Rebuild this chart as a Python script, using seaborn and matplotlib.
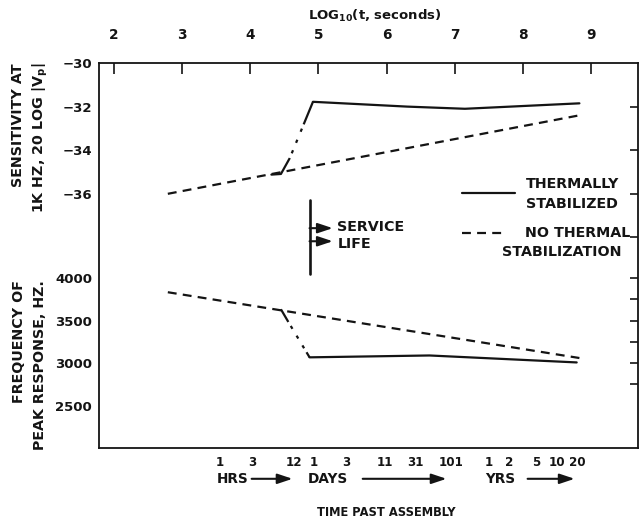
import numpy as np
import matplotlib
matplotlib.use("Agg")
import matplotlib.pyplot as plt
import matplotlib.transforms as mtransforms
import seaborn as sns

# ---- data -------------------------------------------------------------
# top scale: log10 of elapsed time in seconds
log_t_ticks = [2, 3, 4, 5, 6, 7, 8, 9]

# bottom scale: time past assembly
hour_marks = [1, 3, 12]
day_marks = [1, 3, 11, 31, 101]
year_marks = [1, 2, 5, 10, 20]

# sensitivity at 1 kHz, 20 log |Vp|
sens_plain_logt = [2.79, 8.83]
sens_plain = [-36.0, -32.4]
sens_lead_logt = [4.31, 4.45]
sens_lead = [-35.12, -35.09]
sens_step_logt = [4.45, 4.58, 4.92]
sens_step = [-35.09, -34.36, -31.78]
sens_stab_logt = [4.92, 6.30, 7.15, 8.83]
sens_stab = [-31.78, -32.0, -32.1, -31.85]

# frequency of peak response, Hz
freq_plain_logt = [2.79, 8.83]
freq_plain = [3835, 3060]
freq_step_logt = [4.45, 4.56, 4.87]
freq_step = [3634, 3483, 3068]
freq_stab_logt = [4.87, 6.63, 8.79]
freq_stab = [3068, 3090, 3008]

service_life_start = 4.87

sens_ticks_left = [-36, -34, -32, -30]
sens_ticks_right = [-38, -36, -34, -32]
freq_ticks = [2500, 3000, 3500, 4000]
freq_minor = [2750, 3250, 3750]
freq_ticks_right = [2750, 3000, 3250, 3500, 3750, 4000]

# ---- style ------------------------------------------------------------
INK = "#141414"
sns.set_theme(style="white")
plt.rcParams.update({
    "font.family": ["DejaVu Sans"],
    "font.weight": "bold",
    "font.size": 10.3,
    "mathtext.default": "bf",
    "text.color": INK,
    "axes.labelcolor": INK,
    "axes.edgecolor": INK,
    "xtick.color": INK,
    "ytick.color": INK,
    "lines.scale_dashes": True,
})

LW = 1.6
DASHED = (0, (4.0, 2.8))
STEP_UP = (0, (8.2, 2.3, 1.5, 3.6, 1.5, 3.9, 1.5, 2.1, 60, 1))
STEP_DOWN = (0, (6.6, 2.1, 1.5, 3.6, 1.5, 3.6, 1.5, 2.1, 60, 1))

W, H = 642, 528
fig = plt.figure(figsize=(W / 100, H / 100), dpi=100)


def box(x0, y0, x1, y1):
    """Pixel box (origin top-left) to figure-fraction rectangle."""
    return [x0 / W, 1 - y1 / H, (x1 - x0) / W, (y1 - y0) / H]


XLIM = (1.78, 9.69)

# ---- frame with both time scales --------------------------------------
frame = fig.add_axes(box(99, 63, 638, 448))
frame.set_xlim(XLIM)
frame.set_ylim(0, 1)
frame.set_yticks([])
for s in frame.spines.values():
    s.set_visible(True)
    s.set_linewidth(1.3)
    s.set_color(INK)

time_pos = list(np.log10(np.array(hour_marks) * 3600.0)) + \
    list(np.log10(np.array(day_marks) * 86400.0)) + \
    list(np.log10(np.array(year_marks) * 3.156e7))
time_lab = [str(v) for v in hour_marks + day_marks + year_marks]
frame.set_xticks(time_pos, labels=time_lab)
frame.tick_params(axis="x", direction="out", length=5, width=1.2, pad=0.8,
                  labelsize=8.6)

top = frame.secondary_xaxis("top")
top.set_xticks(log_t_ticks, labels=[str(v) for v in log_t_ticks])
top.tick_params(direction="in", length=8, width=1.2, pad=15, labelsize=9.8)
top.spines["top"].set_visible(False)

fig.text(375 / W, 1 - 16 / H, r"LOG$_{10}$(t, seconds)", ha="center",
         va="center", fontsize=9.5)

# ---- sensitivity panel ------------------------------------------------
ax_s = fig.add_axes(box(99, 63, 638, 237.4))
ax_s.set_xlim(XLIM)
ax_s.set_ylim(-38, -30)
ax_s.patch.set_visible(False)
for s in ax_s.spines.values():
    s.set_visible(False)
ax_s.set_xticks([])
ax_s.set_yticks(sens_ticks_left,
                labels=["\u2212" + str(abs(v)) for v in sens_ticks_left])
ax_s.tick_params(axis="y", direction="in", length=6.5, width=1.2, pad=5,
                 labelsize=9.5)
sr = ax_s.secondary_yaxis("right")
sr.set_yticks(sens_ticks_right)
sr.tick_params(direction="in", length=6, width=1.2, labelright=False)
sr.spines["right"].set_visible(False)

kw = dict(color=INK, linewidth=LW, sort=False, estimator=None, legend=False)
sns.lineplot(x=sens_plain_logt, y=sens_plain, ax=ax_s, linestyle=DASHED, **kw)
sns.lineplot(x=sens_lead_logt, y=sens_lead, ax=ax_s, **kw)
sns.lineplot(x=sens_step_logt, y=sens_step, ax=ax_s, linestyle=STEP_UP, **kw)
sns.lineplot(x=sens_stab_logt, y=sens_stab, ax=ax_s, **kw)

# ---- frequency panel --------------------------------------------------
ax_f = fig.add_axes(box(99, 257, 638, 448))
ax_f.set_xlim(XLIM)
ax_f.set_ylim(2000, 4250)
ax_f.patch.set_visible(False)
for s in ax_f.spines.values():
    s.set_visible(False)
ax_f.set_xticks([])
ax_f.set_yticks(freq_ticks, labels=[str(v) for v in freq_ticks])
ax_f.set_yticks(freq_minor, minor=True)
ax_f.tick_params(axis="y", which="major", direction="in", length=6.5,
                 width=1.2, pad=5, labelsize=9.5)
ax_f.tick_params(axis="y", which="minor", direction="in", length=4.5,
                 width=1.0)
fr = ax_f.secondary_yaxis("right")
fr.set_yticks(freq_ticks_right)
fr.tick_params(direction="in", length=6, width=1.2, labelright=False)
fr.spines["right"].set_visible(False)

sns.lineplot(x=freq_plain_logt, y=freq_plain, ax=ax_f, linestyle=DASHED, **kw)
sns.lineplot(x=freq_step_logt, y=freq_step, ax=ax_f, linestyle=STEP_DOWN, **kw)
sns.lineplot(x=freq_stab_logt, y=freq_stab, ax=ax_f, **kw)

# ---- annotations ------------------------------------------------------
trans = mtransforms.blended_transform_factory(frame.transData, frame.transAxes)

# service life marker
frame.plot([service_life_start, service_life_start], [0.452, 0.644],
           transform=trans, color=INK, lw=1.9, clip_on=False)
arrow_kw = dict(arrowstyle="-|>,head_length=0.9,head_width=0.3", lw=1.5,
                color=INK, shrinkA=0, shrinkB=0, mutation_scale=10)
for yy in (0.571, 0.537):
    frame.annotate("", xy=(5.21, yy), xytext=(service_life_start, yy),
                   xycoords=trans, textcoords=trans, arrowprops=arrow_kw)
frame.text(5.28, 0.573, "SERVICE", transform=trans, ha="left", va="center")
frame.text(5.28, 0.530, "LIFE", transform=trans, ha="left", va="center")

# key
frame.plot([7.10, 7.88], [0.662, 0.662], transform=trans, color=INK, lw=LW)
frame.plot([7.10, 7.76], [0.558, 0.558], transform=trans, color=INK, lw=LW,
           linestyle=DASHED)
frame.text(8.04, 0.685, "THERMALLY", transform=trans, ha="left", va="center")
frame.text(8.04, 0.634, "STABILIZED", transform=trans, ha="left", va="center")
frame.text(8.03, 0.558, "NO THERMAL", transform=trans, ha="left", va="center")
frame.text(7.70, 0.508, "STABILIZATION", transform=trans, ha="left",
           va="center")

# time-unit captions below the bottom scale
y_units = -0.080
for label, x_text, x0, x1 in (("HRS", 3.51, 4.02, 4.62),
                              ("DAYS", 4.845, 5.65, 6.88),
                              ("YRS", 7.44, 8.07, 8.76)):
    frame.text(x_text, y_units, label, transform=trans, ha="left",
               va="center", fontsize=9.8)
    frame.annotate("", xy=(x1, y_units), xytext=(x0, y_units),
                   xycoords=trans, textcoords=trans, arrowprops=arrow_kw)
frame.text(5.99, -0.168, "TIME PAST ASSEMBLY", transform=trans,
           ha="center", va="center", fontsize=8.3)

# axis titles
fig.text(18 / W, 1 - 63 / H, "SENSITIVITY AT", rotation=90, ha="center",
         va="top")
fig.text(40 / W, 1 - 63 / H, r"1K HZ, 20 LOG |V$_p$|", rotation=90,
         ha="center", va="top")
fig.text(19 / W, 1 - 280 / H, "FREQUENCY OF", rotation=90, ha="center",
         va="top")
fig.text(40 / W, 1 - 280 / H, "PEAK RESPONSE, HZ.", rotation=90,
         ha="center", va="top")

fig.savefig("out.png", dpi=100, facecolor="white")
